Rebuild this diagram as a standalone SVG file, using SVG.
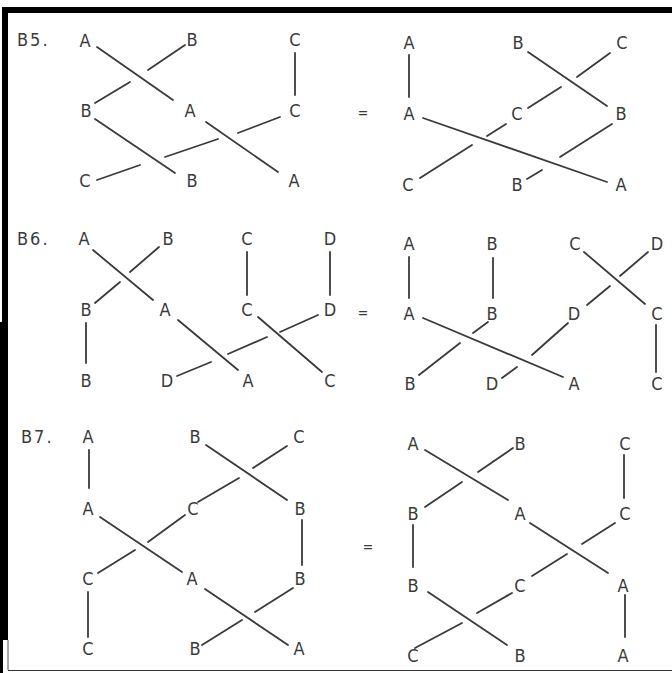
<svg xmlns="http://www.w3.org/2000/svg" width="672" height="673" viewBox="0 0 672 673">
<style>
text{font-family:"DejaVu Sans Condensed","DejaVu Sans","Liberation Sans",sans-serif;font-size:18px;fill:#3a3a3a;text-anchor:middle}
text.lbl{text-anchor:start;letter-spacing:2px}
text.eq{font-size:14px}
#connectors line{stroke:#3a3a3a;stroke-width:1.8;stroke-linecap:round}
</style>
<rect x="0" y="0" width="672" height="673" fill="#fff"/>
<g id="frame">
<rect x="2" y="7" width="670" height="6" fill="#000"/>
<rect x="2" y="7" width="6" height="316" fill="#000"/>
<rect x="0" y="322" width="8" height="318" fill="#000"/>
<rect x="0" y="640" width="3" height="33" fill="#000"/>
<line x1="8" y1="640" x2="8" y2="670" stroke="#555" stroke-width="1"/>
<line x1="8" y1="670.5" x2="672" y2="670.5" stroke="#333" stroke-width="1.2"/>
</g>
<g id="titles">
<text class="lbl" x="17" y="46">B5.</text>
<text class="lbl" x="17" y="245">B6.</text>
<text class="lbl" x="21" y="443">B7.</text>
<text class="eq" x="363" y="118">=</text>
<text class="eq" x="363" y="318">=</text>
<text class="eq" x="368" y="552">=</text>
</g>
<g id="connectors">
<!-- B5 left -->
<line x1="97" y1="47" x2="173" y2="100"/>
<line x1="185" y1="45" x2="148" y2="70"/><line x1="130" y1="82" x2="95" y2="103"/>
<line x1="295" y1="53" x2="295" y2="95"/>
<line x1="95" y1="119" x2="175" y2="173"/>
<line x1="280" y1="117" x2="238" y2="133"/><line x1="218" y1="139" x2="165" y2="157"/><line x1="140" y1="165" x2="97" y2="180"/>
<line x1="206" y1="122" x2="278" y2="172"/>
<!-- B5 right -->
<line x1="409" y1="55" x2="409" y2="97"/>
<line x1="528" y1="52" x2="607" y2="106"/>
<line x1="610" y1="53" x2="577" y2="77"/><line x1="561" y1="87" x2="528" y2="108"/>
<line x1="423" y1="118" x2="607" y2="182"/>
<line x1="506" y1="124" x2="487" y2="136"/><line x1="472" y1="145" x2="420" y2="178"/>
<line x1="612" y1="124" x2="560" y2="157"/><line x1="542" y1="170" x2="527" y2="179"/>
<!-- B6 left -->
<line x1="93" y1="250" x2="153" y2="300"/>
<line x1="159" y1="247" x2="130" y2="272"/><line x1="120" y1="282" x2="95" y2="303"/>
<line x1="247" y1="252" x2="247" y2="295"/>
<line x1="330" y1="252" x2="330" y2="295"/>
<line x1="86" y1="323" x2="86" y2="363"/>
<line x1="178" y1="320" x2="238" y2="370"/>
<line x1="318" y1="315" x2="280" y2="332"/><line x1="267" y1="337" x2="228" y2="354"/><line x1="211" y1="362" x2="177" y2="376"/>
<line x1="258" y1="317" x2="322" y2="372"/>
<!-- B6 right -->
<line x1="409" y1="257" x2="409" y2="298"/>
<line x1="493" y1="258" x2="493" y2="298"/>
<line x1="584" y1="252" x2="645" y2="304"/>
<line x1="648" y1="252" x2="620" y2="276"/><line x1="610" y1="286" x2="587" y2="305"/>
<line x1="656" y1="325" x2="656" y2="372"/>
<line x1="423" y1="318" x2="563" y2="377"/>
<line x1="488" y1="322" x2="473" y2="333"/><line x1="460" y1="343" x2="419" y2="375"/>
<line x1="568" y1="323" x2="532" y2="355"/><line x1="517" y1="367" x2="502" y2="378"/>
<!-- B7 left -->
<line x1="89" y1="450" x2="89" y2="488"/>
<line x1="206" y1="445" x2="287" y2="500"/>
<line x1="287" y1="446" x2="253" y2="468"/><line x1="239" y1="478" x2="198" y2="502"/>
<line x1="100" y1="517" x2="182" y2="572"/>
<line x1="185" y1="515" x2="148" y2="542"/><line x1="135" y1="550" x2="98" y2="573"/>
<line x1="302" y1="520" x2="302" y2="565"/>
<line x1="88" y1="592" x2="88" y2="637"/>
<line x1="205" y1="589" x2="288" y2="645"/>
<line x1="293" y1="588" x2="255" y2="612"/><line x1="242" y1="620" x2="202" y2="645"/>
<!-- B7 right -->
<line x1="425" y1="450" x2="508" y2="500"/>
<line x1="513" y1="448" x2="478" y2="472"/><line x1="462" y1="482" x2="425" y2="507"/>
<line x1="624" y1="455" x2="624" y2="498"/>
<line x1="413" y1="525" x2="413" y2="567"/>
<line x1="530" y1="523" x2="608" y2="573"/>
<line x1="615" y1="523" x2="582" y2="544"/><line x1="567" y1="554" x2="532" y2="576"/>
<line x1="625" y1="595" x2="625" y2="637"/>
<line x1="428" y1="592" x2="507" y2="645"/>
<line x1="512" y1="593" x2="477" y2="613"/><line x1="462" y1="623" x2="415" y2="648"/>
</g>
<!-- B5 left nodes -->
<g id="b5l-a1"><text x="85" y="47">A</text></g>
<g id="b5l-b1"><text x="192" y="46">B</text></g>
<g id="b5l-c1"><text x="295" y="46">C</text></g>
<g id="b5l-b2"><text x="86" y="117">B</text></g>
<g id="b5l-a2"><text x="190" y="117">A</text></g>
<g id="b5l-c2"><text x="295" y="117">C</text></g>
<g id="b5l-c3"><text x="85" y="187">C</text></g>
<g id="b5l-b3"><text x="192" y="187">B</text></g>
<g id="b5l-a3"><text x="294" y="187">A</text></g>
<!-- B5 right nodes -->
<g id="b5r-a1"><text x="409" y="49">A</text></g>
<g id="b5r-b1"><text x="518" y="49">B</text></g>
<g id="b5r-c1"><text x="622" y="49">C</text></g>
<g id="b5r-a2"><text x="409" y="120">A</text></g>
<g id="b5r-c2"><text x="517" y="120">C</text></g>
<g id="b5r-b2"><text x="621" y="120">B</text></g>
<g id="b5r-c3"><text x="408" y="191">C</text></g>
<g id="b5r-b3"><text x="517" y="191">B</text></g>
<g id="b5r-a3"><text x="621" y="191">A</text></g>
<!-- B6 left nodes -->
<g id="b6l-a1"><text x="84" y="245">A</text></g>
<g id="b6l-b1"><text x="168" y="245">B</text></g>
<g id="b6l-c1"><text x="247" y="245">C</text></g>
<g id="b6l-d1"><text x="330" y="245">D</text></g>
<g id="b6l-b2"><text x="86" y="316">B</text></g>
<g id="b6l-a2"><text x="165" y="316">A</text></g>
<g id="b6l-c2"><text x="247" y="316">C</text></g>
<g id="b6l-d2"><text x="330" y="316">D</text></g>
<g id="b6l-b3"><text x="86" y="387">B</text></g>
<g id="b6l-d3"><text x="167" y="387">D</text></g>
<g id="b6l-a3"><text x="248" y="387">A</text></g>
<g id="b6l-c3"><text x="330" y="387">C</text></g>
<!-- B6 right nodes -->
<g id="b6r-a1"><text x="409" y="250">A</text></g>
<g id="b6r-b1"><text x="492" y="250">B</text></g>
<g id="b6r-c1"><text x="575" y="250">C</text></g>
<g id="b6r-d1"><text x="657" y="250">D</text></g>
<g id="b6r-a2"><text x="409" y="320">A</text></g>
<g id="b6r-b2"><text x="492" y="320">B</text></g>
<g id="b6r-d2"><text x="574" y="320">D</text></g>
<g id="b6r-c2"><text x="657" y="320">C</text></g>
<g id="b6r-b3"><text x="410" y="390">B</text></g>
<g id="b6r-d3"><text x="492" y="390">D</text></g>
<g id="b6r-a3"><text x="574" y="390">A</text></g>
<g id="b6r-c3"><text x="657" y="390">C</text></g>
<!-- B7 left nodes -->
<g id="b7l-a1"><text x="88" y="443">A</text></g>
<g id="b7l-b1"><text x="195" y="443">B</text></g>
<g id="b7l-c1"><text x="299" y="443">C</text></g>
<g id="b7l-a2"><text x="88" y="515">A</text></g>
<g id="b7l-c2"><text x="193" y="515">C</text></g>
<g id="b7l-b2"><text x="300" y="515">B</text></g>
<g id="b7l-c3"><text x="88" y="585">C</text></g>
<g id="b7l-a3"><text x="192" y="585">A</text></g>
<g id="b7l-b3"><text x="300" y="585">B</text></g>
<g id="b7l-c4"><text x="88" y="655">C</text></g>
<g id="b7l-b4"><text x="195" y="655">B</text></g>
<g id="b7l-a4"><text x="299" y="655">A</text></g>
<!-- B7 right nodes -->
<g id="b7r-a1"><text x="413" y="450">A</text></g>
<g id="b7r-b1"><text x="520" y="450">B</text></g>
<g id="b7r-c1"><text x="625" y="450">C</text></g>
<g id="b7r-b2"><text x="413" y="520">B</text></g>
<g id="b7r-a2"><text x="520" y="520">A</text></g>
<g id="b7r-c2"><text x="625" y="520">C</text></g>
<g id="b7r-b3"><text x="413" y="592">B</text></g>
<g id="b7r-c3"><text x="520" y="592">C</text></g>
<g id="b7r-a3"><text x="623" y="592">A</text></g>
<g id="b7r-c4"><text x="413" y="662">C</text></g>
<g id="b7r-b4"><text x="520" y="662">B</text></g>
<g id="b7r-a4"><text x="623" y="662">A</text></g>
</svg>
